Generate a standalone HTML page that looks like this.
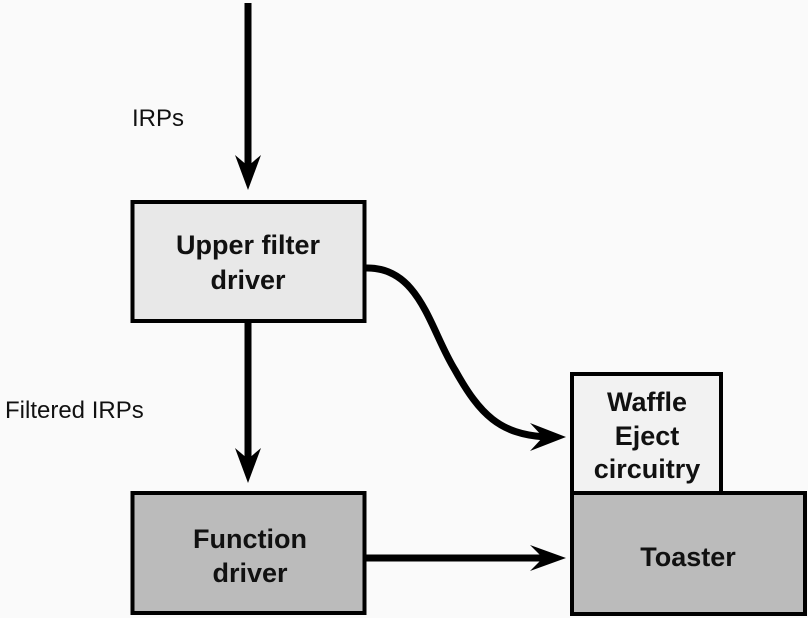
<!DOCTYPE html>
<html><head><meta charset="utf-8"><style>
html,body{margin:0;padding:0;background:#fafafa;}
svg{display:block;}
text{font-family:"Liberation Sans",Arial,sans-serif;fill:#111;}
</style></head><body>
<svg width="808" height="618" viewBox="0 0 808 618" xmlns="http://www.w3.org/2000/svg">
<rect width="808" height="618" fill="#fafafa"/>
<!-- top arrow -->
<line x1="248" y1="3" x2="248" y2="172" stroke="#000" stroke-width="7"/>
<path d="M248,190 L235,155 L248,166 L261,155 Z" fill="#000"/>
<text x="132" y="126" font-size="24">IRPs</text>
<!-- upper filter box -->
<rect x="132.5" y="202" width="232" height="119" fill="#e8e8e8" stroke="#000" stroke-width="4"/>
<text x="248" y="254" font-size="27" text-anchor="middle" font-weight="bold">Upper filter</text>
<text x="248" y="289" font-size="27" text-anchor="middle" font-weight="bold">driver</text>
<!-- middle arrow -->
<line x1="248" y1="322" x2="248" y2="463" stroke="#000" stroke-width="7"/>
<path d="M248,483 L235,448 L248,459 L261,448 Z" fill="#000"/>
<text x="5" y="418" font-size="24">Filtered IRPs</text>
<!-- function box -->
<rect x="132.5" y="493" width="232" height="120" fill="#bbbbbb" stroke="#000" stroke-width="4"/>
<text x="250" y="548" font-size="27" text-anchor="middle" font-weight="bold">Function</text>
<text x="250" y="582" font-size="27" text-anchor="middle" font-weight="bold">driver</text>
<!-- curve -->
<path d="M365,268 C420,266 430,330 455,370 C480,415 500,434 545,437" fill="none" stroke="#000" stroke-width="7"/>
<path d="M566,437 L530,423 L543,437 L530,451 Z" fill="#000"/>
<!-- horizontal arrow -->
<line x1="365" y1="558" x2="545" y2="558" stroke="#000" stroke-width="7"/>
<path d="M566,558 L530,545 L543,558 L530,571 Z" fill="#000"/>
<!-- waffle box -->
<rect x="572" y="374" width="149" height="119" fill="#f2f2f2" stroke="#000" stroke-width="4"/>
<text x="647" y="411" font-size="27" text-anchor="middle" font-weight="bold">Waffle</text>
<text x="647" y="445" font-size="27" text-anchor="middle" font-weight="bold">Eject</text>
<text x="647" y="478" font-size="27" text-anchor="middle" font-weight="bold">circuitry</text>
<!-- toaster -->
<rect x="572" y="493" width="233" height="121" fill="#bbbbbb" stroke="#000" stroke-width="4"/>
<text x="688" y="566" font-size="27" text-anchor="middle" font-weight="bold">Toaster</text>
</svg>
</body></html>
